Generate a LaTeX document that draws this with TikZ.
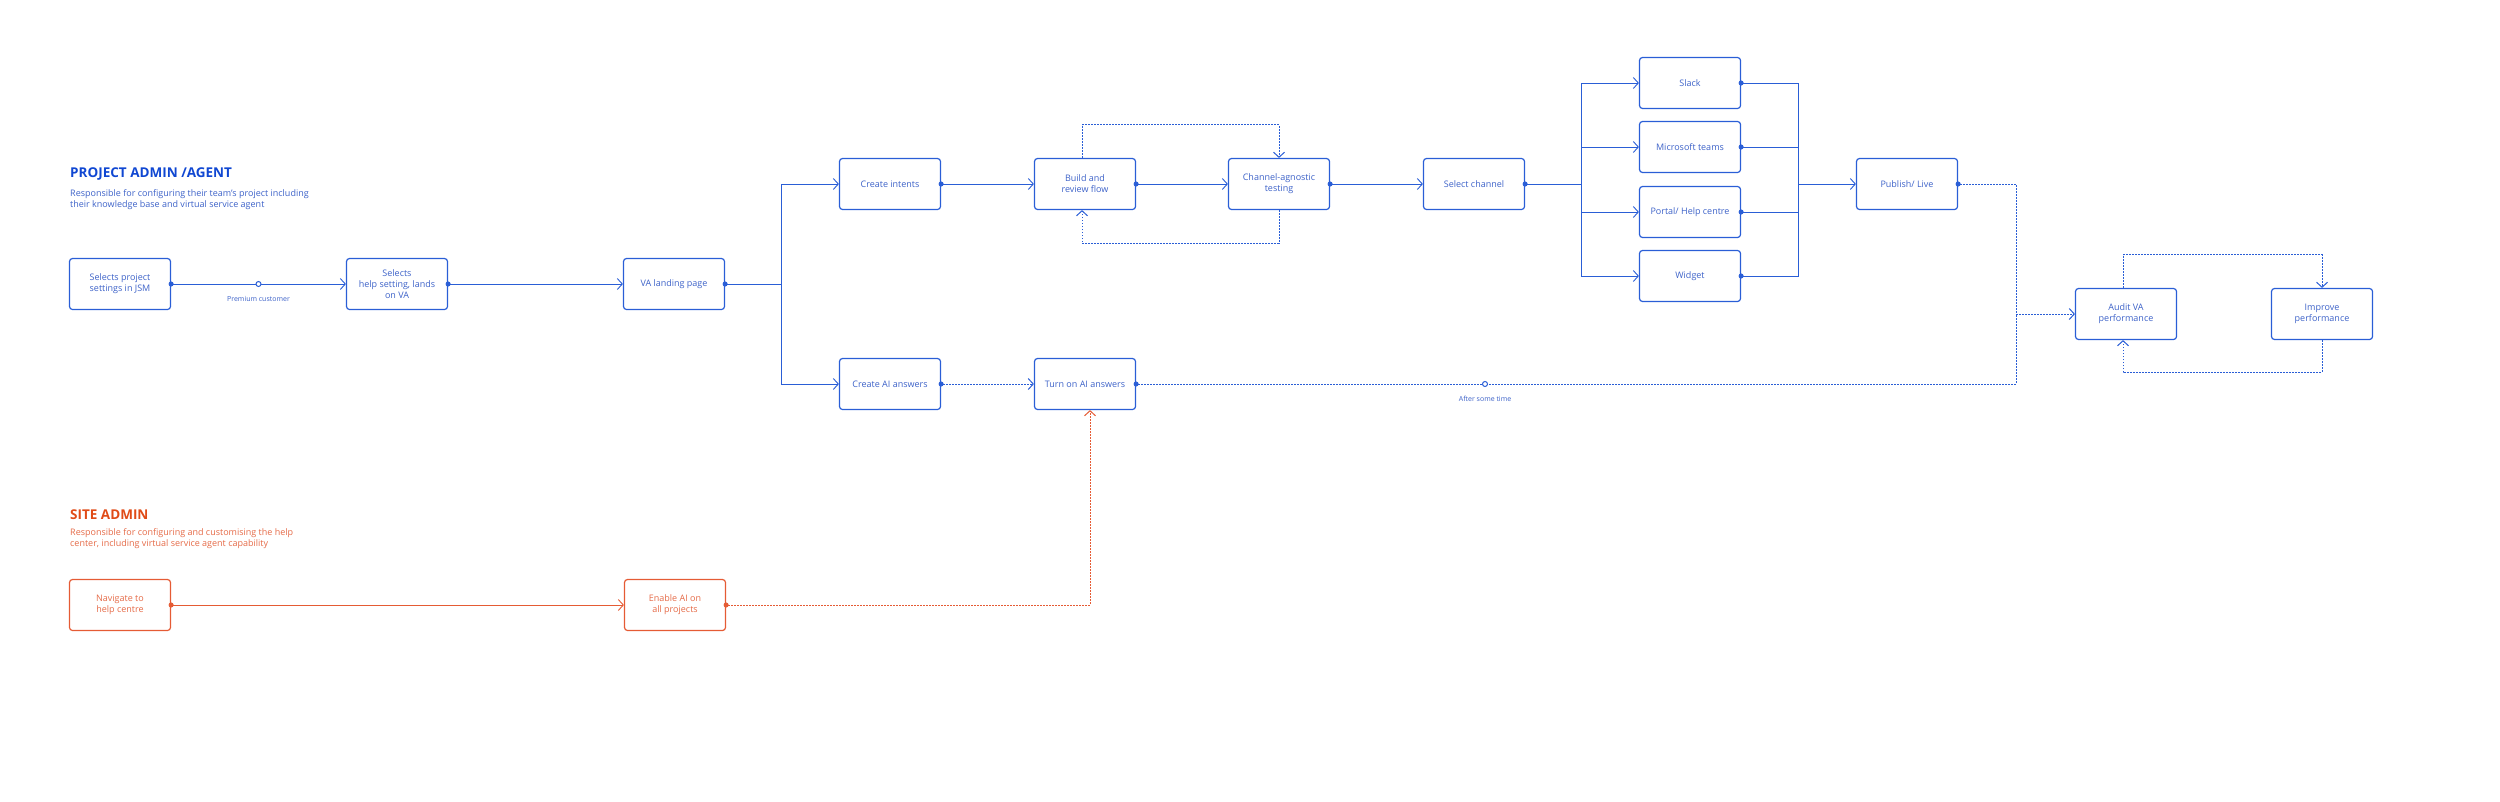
\documentclass[tikz,border=0pt]{standalone}
\usepackage{fontspec}
\setmainfont{Open Sans}
\usetikzlibrary{arrows.meta,positioning}
\definecolor{agentline}{HTML}{2A5ED6}
\definecolor{agenttext}{HTML}{3D62C8}
\definecolor{agenthead}{HTML}{1047D2}
\definecolor{adminline}{HTML}{E55B34}
\definecolor{admintext}{HTML}{E56A47}
\definecolor{adminhead}{HTML}{E04B17}

\begin{document}
\begin{tikzpicture}[x=1pt,y=-1pt,
    >={Straight Barb[length=5pt,width=11pt]},
    stepbox/.style={draw=agentline,line width=1.2pt,rounded corners=3pt,
      minimum width=101pt,minimum height=51pt,align=center,inner sep=1pt,
      text=agenttext,font=\fontsize{9}{10.8}\selectfont},
    adminbox/.style={stepbox,draw=adminline,text=admintext},
    flow/.style={draw=agentline,line width=0.9pt},
    later/.style={flow,line width=1pt,dash pattern=on 1.6pt off 1.4pt},
    dotstart/.style={shorten <=-2.5pt,{Circle[length=5pt]}-},
    dotarrow/.style={shorten <=-2.5pt,{Circle[length=5pt]}->},
    ring/.style={circle,draw=agentline,fill=white,line width=1pt,inner sep=0pt,minimum size=5pt},
    heading/.style={anchor=west,inner sep=0pt,font=\bfseries\fontsize{13.5}{16}\selectfont},
    blurb/.style={anchor=north west,inner sep=0pt,align=left,font=\fontsize{9}{11}\selectfont},
    note/.style={inner sep=0pt,text=agenttext,font=\fontsize{7}{8}\selectfont}]
  \useasboundingbox (0,0) rectangle (2500,801);

  % project admin / agent
  \node[heading,text=agenthead] (agenthead) at (70,174) {PROJECT ADMIN /AGENT};
  \node[blurb,text=agenttext] (agentblurb) at (70,189)
    {Responsible for configuring their team's project including\\their knowledge base and virtual service agent};

  \node[stepbox] (jsm) at (120,284) {Selects project\\settings in JSM};
  \node[stepbox] (helpset) at (397,284) {Selects\\help setting, lands\\on VA};
  \node[stepbox] (landing) at (674,284) {VA landing page};
  \node[stepbox] (intents) at (890,184) {Create intents};
  \node[stepbox] (build) at (1085,184) {Build and\\review flow};
  \node[stepbox] (testing) at (1279,184) {Channel-agnostic\\testing};
  \node[stepbox] (channel) at (1474,184) {Select channel};
  \node[stepbox] (slack) at (1690,83) {Slack};
  \node[stepbox] (teams) at (1690,147) {Microsoft teams};
  \node[stepbox] (portal) at (1690,212) {Portal/ Help centre};
  \node[stepbox] (widget) at (1690,276) {Widget};
  \node[stepbox] (publish) at (1907,184) {Publish/ Live};
  \node[stepbox] (aicreate) at (890,384) {Create AI answers};
  \node[stepbox] (aion) at (1085,384) {Turn on AI answers};
  \node[stepbox] (audit) at (2126,314) {Audit VA\\performance};
  \node[stepbox] (improve) at (2322,314) {Improve\\performance};

  \coordinate (split) at (781,284);
  \coordinate (fan) at (1581,184);
  \coordinate (merge) at (1798,184);
  \coordinate (rejoin) at (2016,314);

  \draw[flow,dotarrow] (jsm) -- node[ring] (premium) {} (helpset);
  \node[note,below=9pt of premium] {Premium customer};
  \draw[flow,dotarrow] (helpset) -- (landing);
  \draw[flow,dotstart] (landing) -- (split);
  \draw[flow,->] (split) |- (intents);
  \draw[flow,->] (split) |- (aicreate);
  \draw[flow,dotarrow] (intents) -- (build);
  \draw[flow,dotarrow] (build) -- (testing);
  \draw[flow,dotarrow] (testing) -- (channel);
  \draw[later,->] ([xshift=-3pt]build.north) -- ++(0,-33) -| (testing.north);
  \draw[later,->] (testing.south) -- ++(0,33) -| ([xshift=-3pt]build.south);

  \draw[flow,dotstart] (channel) -- (fan);
  \foreach \ch in {slack,teams,portal,widget}{
    \draw[flow,->] (fan) |- (\ch);
    \draw[flow,dotstart] (\ch) -| (merge);
  }
  \draw[flow,->] (merge) -- (publish);

  \draw[later,dotarrow] (aicreate) -- (aion);
  \draw[later,dotstart] (publish) -| (rejoin);
  \draw[later,dotstart] (aion) -| (rejoin);
  \draw[later,->] (rejoin) -- (audit);
  \node[ring] (sometime) at (1485,384) {};
  \node[note,below=9pt of sometime] {After some time};

  \draw[later,->] ([xshift=-3pt]audit.north) -- ++(0,-33) -| (improve.north);
  \draw[later,->] (improve.south) -- ++(0,32) -| ([xshift=-3pt]audit.south);

  % site admin
  \node[heading,text=adminhead] (adminhead) at (70,515) {SITE ADMIN};
  \node[blurb,text=admintext] (adminblurb) at (70,528)
    {Responsible for configuring and customising the help\\center, including virtual service agent capability};

  \node[adminbox] (navigate) at (120,605) {Navigate to\\help centre};
  \node[adminbox] (enable) at (675,605) {Enable AI on\\all projects};

  \draw[flow,draw=adminline,dotarrow] (navigate) -- (enable);
  \draw[later,draw=adminline,dotarrow] (enable) -| ([xshift=5pt]aion.south);
\end{tikzpicture}
\end{document}
